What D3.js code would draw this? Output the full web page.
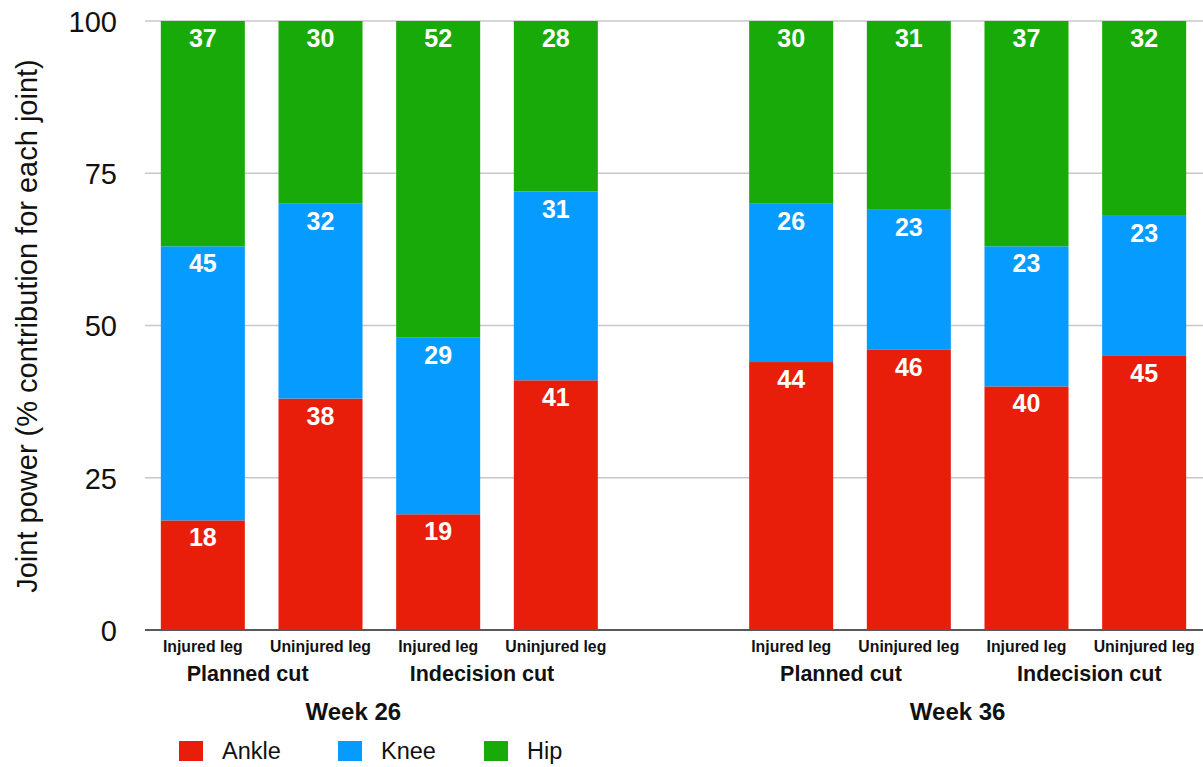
<!DOCTYPE html>
<html><head><meta charset="utf-8">
<script src="https://cdn.jsdelivr.net/npm/d3@7"></script>
<style>body{margin:0;background:#fff;} text{font-family:"Liberation Sans",Arial,Helvetica,sans-serif;}</style>
</head><body>
<svg id="c" width="1203" height="767"></svg>
<script>
const slots = ["W26 Planned Injured","W26 Planned Uninjured","W26 Indecision Injured","W26 Indecision Uninjured","gap","W36 Planned Injured","W36 Planned Uninjured","W36 Indecision Injured","W36 Indecision Uninjured"];
const bars = ["W26 Planned Injured","W26 Planned Uninjured","W26 Indecision Injured","W26 Indecision Uninjured","W36 Planned Injured","W36 Planned Uninjured","W36 Indecision Injured","W36 Indecision Uninjured"];
const legLabels = ["Injured leg","Uninjured leg","Injured leg","Uninjured leg","Injured leg","Uninjured leg","Injured leg","Uninjured leg"];
const ankle = [18,38,19,41,44,46,40,45];
const knee  = [45,32,29,31,26,23,23,23];
const hip   = [37,30,52,28,30,31,37,32];
const seriesNames = ["Ankle","Knee","Hip"];
const colors = ["#e81e0a","#069cff","#18aa08"];
const yTicks = [0,25,50,75,100];
const cutGroups = [
  {label:"Planned cut", bars:[0,1], dx:-14},
  {label:"Indecision cut", bars:[2,3], dx:-15},
  {label:"Planned cut", bars:[4,5], dx:-9},
  {label:"Indecision cut", bars:[6,7], dx:4}
];
const weekGroups = [
  {label:"Week 26", bars:[0,1,2,3], dx:-26},
  {label:"Week 36", bars:[4,5,6,7], dx:-10}
];

const svg = d3.select("#c");
const x = d3.scaleBand().domain(slots).range([144,1203]).paddingInner(0.286).paddingOuter(0.143);
const y = d3.scaleLinear().domain([0,100]).range([630,21]);

// gridlines
const g = svg.append("g");
g.selectAll("line").data(yTicks).join("line")
  .attr("x1",145).attr("x2",1203)
  .attr("y1",d=>y(d)).attr("y2",d=>y(d))
  .attr("stroke",d=>d===0?"#222":"#c8c8c8").attr("stroke-width",d=>d===0?1.5:1.3);
const yAxis = d3.axisLeft(y).tickValues(yTicks).tickSize(0).tickPadding(0);
const ax = svg.append("g").attr("transform","translate(117,0)").call(yAxis);
ax.select(".domain").remove();
ax.selectAll("text").attr("font-size",29).attr("fill","#111").attr("dy","0.36em")
  .attr("font-family",'"Liberation Sans",Arial,sans-serif');

// stacked bars
const data = bars.map((b,i)=>({key:b, Ankle:ankle[i], Knee:knee[i], Hip:hip[i]}));
const stack = d3.stack().keys(seriesNames)(data);
stack.forEach((s,si)=>{
  const grp = svg.append("g");
  grp.selectAll("rect").data(s).join("rect")
    .attr("x",d=>x(d.data.key)).attr("width",x.bandwidth())
    .attr("y",d=>y(d[1])).attr("height",d=>y(d[0])-y(d[1]))
    .attr("fill",colors[si]);
  grp.selectAll("text").data(s).join("text")
    .attr("x",d=>x(d.data.key)+x.bandwidth()/2)
    .attr("y",d=>y(d[1])+26)
    .attr("text-anchor","middle").attr("font-size",25).attr("font-weight","bold").attr("fill","#fff")
    .text(d=>d[1]-d[0]);
});

// category labels
svg.append("g").selectAll("text").data(bars).join("text")
  .attr("x",d=>x(d)+x.bandwidth()/2).attr("y",652)
  .attr("text-anchor","middle").attr("font-size",15.8).attr("font-weight","bold").attr("fill","#111")
  .text((d,i)=>legLabels[i]);
const ctr = idx => d3.mean(idx, i=>x(bars[i])+x.bandwidth()/2);
svg.append("g").selectAll("text").data(cutGroups).join("text")
  .attr("x",d=>ctr(d.bars)+d.dx).attr("y",681)
  .attr("text-anchor","middle").attr("font-size",21.5).attr("font-weight","bold").attr("fill","#111")
  .text(d=>d.label);
svg.append("g").selectAll("text").data(weekGroups).join("text")
  .attr("x",d=>ctr(d.bars)+d.dx).attr("y",720)
  .attr("text-anchor","middle").attr("font-size",24).attr("font-weight","bold").attr("fill","#111")
  .text(d=>d.label);

// y axis title
svg.append("text").attr("transform","translate(37,326) rotate(-90)")
  .attr("text-anchor","middle").attr("font-size",29).attr("fill","#111")
  .text("Joint power (% contribution for each joint)");

// legend
const legX = [179,338,484];
const lg = svg.append("g").selectAll("g").data(seriesNames).join("g")
  .attr("transform",(d,i)=>`translate(${legX[i]},741)`);
lg.append("rect").attr("width",24).attr("height",20).attr("fill",(d,i)=>colors[i]);
lg.append("text").attr("x",43).attr("y",18).attr("font-size",23.5).attr("fill","#111").text(d=>d);
</script>
</body></html>
